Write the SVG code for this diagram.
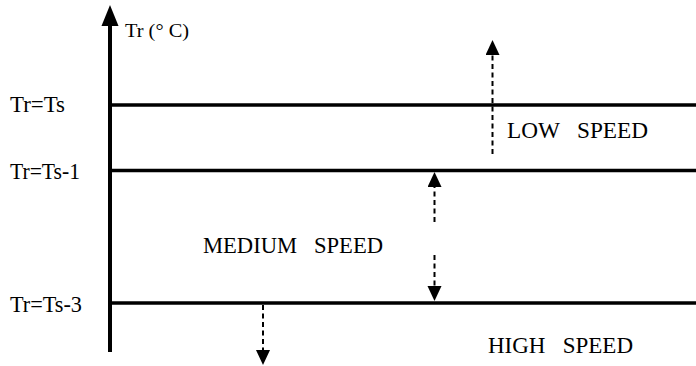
<svg xmlns="http://www.w3.org/2000/svg" width="696" height="366" viewBox="0 0 696 366">
<style>
  text { font-family: "Liberation Serif", "Times New Roman", serif; fill: #000; }
  .lbl { font-size: 23px; }
  .spd { font-size: 24px; }
  .axis { stroke: #000; stroke-width: 4; fill: none; }
  .level { stroke: #000; stroke-width: 3.5; fill: none; }
  .dash { stroke: #000; stroke-width: 2; stroke-dasharray: 5 3.5; fill: none; }
</style>
<defs>
  <marker id="ah" markerUnits="userSpaceOnUse" markerWidth="16" markerHeight="16" refX="0" refY="7" orient="auto">
    <path d="M0,0 L15,7 L0,14 z" fill="#000"/>
  </marker>
</defs>
<rect width="696" height="366" fill="#fff"/>

<g id="axis">
  <line class="axis" x1="110" y1="352" x2="110" y2="24"/>
  <polygon points="110,5 101.5,26 118.5,26" fill="#000"/>
  <text x="125" y="37" style="font-size:19.5px" textLength="64" lengthAdjust="spacingAndGlyphs">Tr (° C)</text>
</g>

<g id="level-ts">
  <line class="level" x1="110" y1="105" x2="696" y2="105"/>
  <text class="lbl" x="10" y="112" textLength="55" lengthAdjust="spacingAndGlyphs">Tr=Ts</text>
</g>
<g id="level-ts-1">
  <line class="level" x1="110" y1="170.5" x2="696" y2="170.5"/>
  <text class="lbl" x="10" y="179" textLength="70" lengthAdjust="spacingAndGlyphs">Tr=Ts-1</text>
</g>
<g id="level-ts-3">
  <line class="level" x1="110" y1="303" x2="696" y2="303"/>
  <text class="lbl" x="10" y="312" textLength="72" lengthAdjust="spacingAndGlyphs">Tr=Ts-3</text>
</g>

<g id="low-speed">
  <text class="spd" x="507" y="138" xml:space="preserve" textLength="141" lengthAdjust="spacingAndGlyphs">LOW   SPEED</text>
</g>
<g id="medium-speed">
  <text class="spd" x="203" y="253" xml:space="preserve" textLength="180" lengthAdjust="spacingAndGlyphs">MEDIUM   SPEED</text>
</g>
<g id="high-speed">
  <text class="spd" x="488" y="353" xml:space="preserve" textLength="145" lengthAdjust="spacingAndGlyphs">HIGH   SPEED</text>
</g>

<g id="connectors">
  <line class="dash" x1="492.5" y1="154" x2="492.5" y2="55" marker-end="url(#ah)"/>
  <line class="dash" x1="434.5" y1="222" x2="434.5" y2="187" marker-end="url(#ah)"/>
  <line class="dash" x1="434.5" y1="255" x2="434.5" y2="286" marker-end="url(#ah)"/>
  <line class="dash" x1="263" y1="305" x2="263" y2="350" marker-end="url(#ah)"/>
</g>
</svg>
